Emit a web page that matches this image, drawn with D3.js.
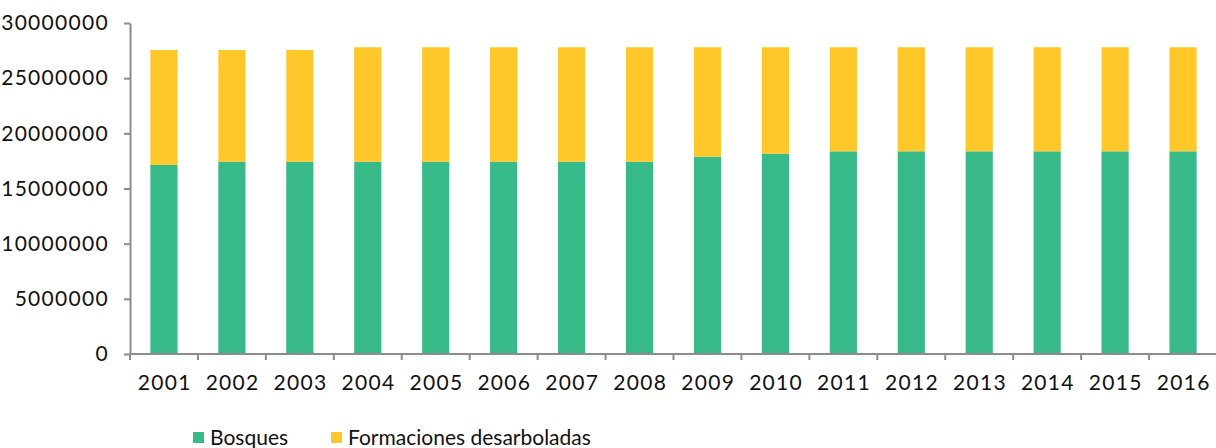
<!DOCTYPE html>
<html>
<head>
<meta charset="utf-8">
<script src="https://cdn.jsdelivr.net/npm/d3@7"></script>
<style>
  body { margin: 0; background: #fff; }
  text { font-family: Lato, "Noto Sans", sans-serif; fill: #111; }
</style>
</head>
<body>
<div id="chart"></div>
<script>
var years = ["2001", "2002", "2003", "2004", "2005", "2006", "2007", "2008",
             "2009", "2010", "2011", "2012", "2013", "2014", "2015", "2016"];
var bosques = [17130000, 17430000, 17430000, 17430000, 17430000, 17430000, 17430000, 17430000,
               17890000, 18160000, 18370000, 18370000, 18370000, 18370000, 18370000, 18370000];
var desarboladas = [10430000, 10130000, 10130000, 10370000, 10370000, 10370000, 10370000, 10370000,
                    9910000, 9640000, 9430000, 9430000, 9430000, 9430000, 9430000, 9430000];
var yTicks = [0, 5000000, 10000000, 15000000, 20000000, 25000000, 30000000];
var seriesNames = ["Bosques", "Formaciones desarboladas"];
var colors = ["#38ba88", "#ffc72a"];

var W = 1216, H = 448;
var margin = { top: 23, right: 0, bottom: 94, left: 130 },
    width = 1217 - margin.left,
    height = H - margin.top - margin.bottom;

var svg = d3.select("#chart").append("svg")
    .attr("width", W).attr("height", H)
  .append("g")
    .attr("transform", "translate(" + margin.left + "," + margin.top + ")");

var table = years.map(function(y, i) {
  return { year: y, Bosques: bosques[i], "Formaciones desarboladas": desarboladas[i] };
});
var stacked = d3.stack().keys(seriesNames)(table);

var x = d3.scaleBand().domain(years).range([0, width]).paddingInner(0.6).paddingOuter(0.3);
var y = d3.scaleLinear().domain([0, 30000000]).range([height, 0]);

svg.selectAll("g.layer")
  .data(stacked)
  .enter().append("g")
    .attr("class", "layer")
    .attr("fill", function(d, i) { return colors[i]; })
  .selectAll("rect")
  .data(function(d) { return d; })
  .enter().append("rect")
    .attr("x", function(d) { return x(d.data.year); })
    .attr("width", x.bandwidth())
    .attr("y", function(d) { return y(d[1]); })
    .attr("height", function(d) { return y(d[0]) - y(d[1]); });

// y axis
var yAxis = svg.append("g")
  .call(d3.axisLeft(y).tickValues(yTicks).tickFormat(d3.format("d")).tickSize(6).tickSizeOuter(0));
yAxis.select(".domain").attr("stroke", "#8c8c8c").attr("stroke-width", 2);
yAxis.selectAll(".tick line").attr("stroke", "#8c8c8c").attr("stroke-width", 2);
yAxis.selectAll(".tick text")
  .attr("x", -21)
  .style("font-size", "21px")
  .style("letter-spacing", "1.3px");

// x axis with ticks between categories
var xAxis = svg.append("g").attr("transform", "translate(0," + height + ")");
xAxis.append("line").attr("x1", 0).attr("x2", width).attr("stroke", "#8c8c8c").attr("stroke-width", 2);
var step = x.step();
xAxis.selectAll("line.tk")
  .data(d3.range(years.length + 1))
  .enter().append("line")
    .attr("class", "tk")
    .attr("x1", function(i) { return i * step; })
    .attr("x2", function(i) { return i * step; })
    .attr("y1", 0).attr("y2", 6)
    .attr("stroke", "#8c8c8c").attr("stroke-width", 2);
xAxis.selectAll("text")
  .data(years)
  .enter().append("text")
    .attr("x", function(d) { return x(d) + x.bandwidth() / 2 + 0.7; })
    .attr("y", 36)
    .attr("text-anchor", "middle")
    .style("font-size", "21px")
    .style("letter-spacing", "1.3px")
    .text(function(d) { return d; });

// legend
var legendX = [193, 331];
var legend = d3.select("svg").selectAll("g.legend")
  .data(seriesNames)
  .enter().append("g")
    .attr("class", "legend")
    .attr("transform", function(d, i) { return "translate(" + legendX[i] + ",432)"; });
legend.append("rect").attr("width", 11).attr("height", 11).attr("fill", function(d, i) { return colors[i]; });
legend.append("text").attr("x", 17).attr("y", 13).style("font-size", "21px").text(function(d) { return d; });
</script>
</body>
</html>
